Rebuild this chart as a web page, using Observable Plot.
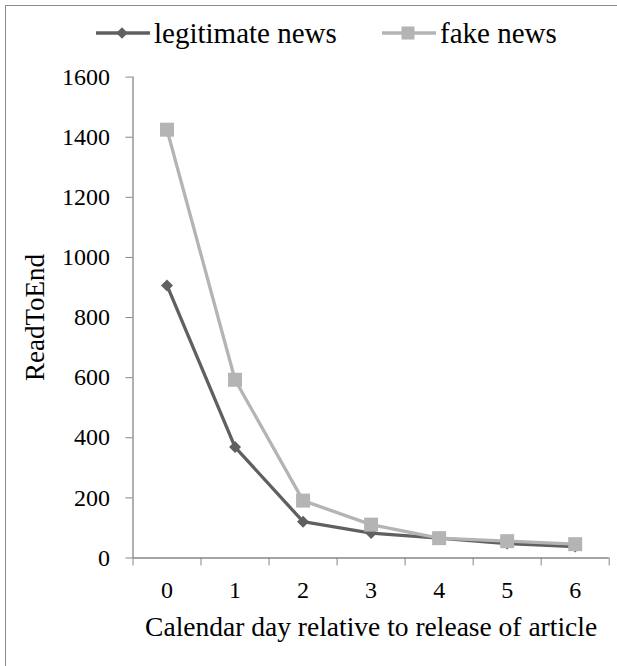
<!DOCTYPE html>
<html>
<head>
<meta charset="utf-8">
<script src="https://cdn.jsdelivr.net/npm/d3@7"></script>
<script src="https://cdn.jsdelivr.net/npm/@observablehq/plot@0.6"></script>
<style>
  html, body { margin: 0; padding: 0; background: #fff; overflow: hidden; }
  body { width: 617px; height: 666px; position: relative; font-family: "Liberation Serif", "Times New Roman", serif; }
  #frame { position: absolute; left: 5px; top: 5px; width: 700px; height: 700px; border: 1.5px solid #8a8a8a; pointer-events: none; }
  #legend { position: relative; height: 60px; }
  .item { position: absolute; top: 13px; display: flex; align-items: center; font-size: 29px; color: #000; line-height: 40px; }
  .item svg { margin-right: 4px; }
  #chart svg { display: block; }
</style>
</head>
<body>
<div id="frame"></div>
<div id="legend"></div>
<div id="chart"></div>
<script>
// Days since the article was released
const days = [0, 1, 2, 3, 4, 5, 6];
// Read-to-end counts per day
const legitimate = [907, 369, 121, 83, 66, 48, 38];
const fake = [1425, 593, 191, 111, 66, 56, 46];
const yTicks = [0, 200, 400, 600, 800, 1000, 1200, 1400, 1600];

const seriesNames = ["legitimate news", "fake news"];
const seriesColors = ["#606060", "#b4b4b4"];
const seriesSymbols = ["diamond2", "square"];

const rows = days.flatMap((d, i) => [
  {day: d, value: legitimate[i], series: seriesNames[0]},
  {day: d, value: fake[i], series: seriesNames[1]}
]);

// Category boundaries carry the tick marks, centers carry the labels
const boundaries = [...days.map(d => d - 0.5), days[days.length - 1] + 0.5];

const font = "Liberation Serif, Times New Roman, serif";
const axisColor = "#868686";

const marks = [
  Plot.ruleY([0], {stroke: axisColor, strokeWidth: 1.3}),
  Plot.ruleX([boundaries[0]], {stroke: axisColor, strokeWidth: 1.3}),
  Plot.axisY({ticks: yTicks, tickSize: 7, tickPadding: 16, tickFormat: d => String(d), stroke: axisColor, fill: "#000", fontSize: 24, label: null}),
  Plot.axisX({ticks: boundaries, tickSize: 8, tickFormat: () => "", stroke: axisColor, label: null}),
  Plot.axisX({ticks: days, tickSize: 0, tickPadding: 23, tickFormat: d => String(d), fill: "#000", fontSize: 24, label: null})
];

seriesNames.forEach((name, k) => {
  const data = rows.filter(r => r.series === name);
  marks.push(Plot.line(data, {x: "day", y: "value", stroke: seriesColors[k], strokeWidth: 3.3}));
  marks.push(Plot.dot(data, {x: "day", y: "value", symbol: () => seriesSymbols[k], fill: seriesColors[k], stroke: "none", r: k === 0 ? 5.4 : 7.9}));
});

marks.push(
  Plot.text(["Calendar day relative to release of article"], {frameAnchor: "bottom", lineAnchor: "middle", textAnchor: "middle", dy: 69, fontSize: 27.5, fill: "#000"}),
  Plot.text(["ReadToEnd"], {frameAnchor: "left", lineAnchor: "middle", textAnchor: "middle", rotate: -90, dx: -97.5, fontSize: 27, fill: "#000"})
);

const chart = Plot.plot({
  width: 617,
  height: 606,
  marginTop: 16.6,
  marginBottom: 108.5,
  marginLeft: 132.5,
  marginRight: 8.3,
  style: {fontFamily: font, background: "transparent", overflow: "visible"},
  x: {type: "linear", domain: [boundaries[0], boundaries[boundaries.length - 1]], axis: null},
  y: {domain: [0, 1600], axis: null},
  symbol: {type: "identity"},
  marks
});
document.getElementById("chart").appendChild(chart);

// Legend
const legend = document.getElementById("legend");
const legendLeft = [96, 382];
seriesNames.forEach((name, k) => {
  const item = document.createElement("div");
  item.className = "item";
  item.style.left = legendLeft[k] + "px";
  const ns = "http://www.w3.org/2000/svg";
  const sw = document.createElementNS(ns, "svg");
  sw.setAttribute("width", 54);
  sw.setAttribute("height", 20);
  const ln = document.createElementNS(ns, "line");
  ln.setAttribute("x1", 0); ln.setAttribute("x2", 54);
  ln.setAttribute("y1", 10); ln.setAttribute("y2", 10);
  ln.setAttribute("stroke", seriesColors[k]); ln.setAttribute("stroke-width", 3.3);
  sw.appendChild(ln);
  const sym = document.createElementNS(ns, "path");
  const symType = k === 0 ? d3.symbolDiamond2 : d3.symbolSquare;
  const size = k === 0 ? 85 : 170;
  sym.setAttribute("d", d3.symbol(symType, size)());
  sym.setAttribute("transform", "translate(26,10)");
  sym.setAttribute("fill", seriesColors[k]);
  sw.appendChild(sym);
  item.appendChild(sw);
  const label = document.createElement("span");
  label.textContent = name;
  item.appendChild(label);
  legend.appendChild(item);
});
</script>
</body>
</html>
